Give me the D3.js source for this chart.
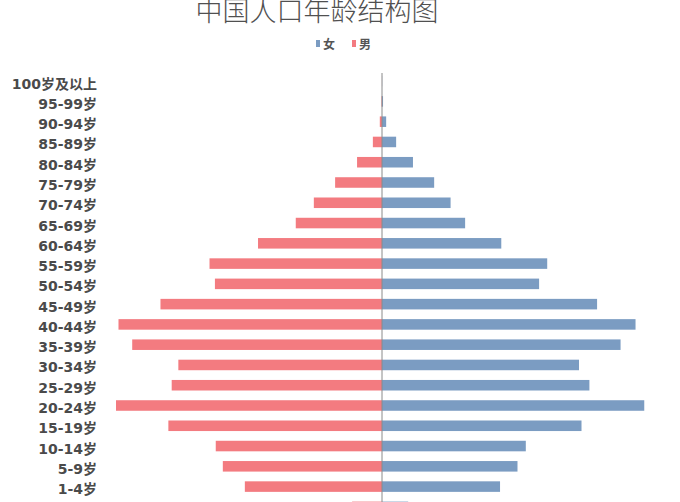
<!DOCTYPE html>
<html>
<head>
<meta charset="utf-8">
<script src="https://d3js.org/d3.v7.min.js"></script>
<style>
  body { margin: 0; background: #fff; }
  svg { display: block; }
</style>
</head>
<body>
<svg id="drawing_region"></svg>
<script>
// age groups, top to bottom
const ages = ['100岁及以上', '95-99岁', '90-94岁', '85-89岁', '80-84岁', '75-79岁', '70-74岁',
  '65-69岁', '60-64岁', '55-59岁', '50-54岁', '45-49岁', '40-44岁', '35-39岁', '30-34岁',
  '25-29岁', '20-24岁', '15-19岁', '10-14岁', '5-9岁', '1-4岁', '0岁'];

// population, 万人
const male = [1, 12, 53, 220, 600, 1128, 1640, 2075, 2983, 4150, 4020, 5330, 6340, 6010, 4900,
  5060, 6400, 5140, 4000, 3830, 3300, 720];
const female = [3, 25, 100, 340, 745, 1255, 1650, 2000, 2870, 3975, 3780, 5175, 6100, 5740, 4740,
  4990, 6310, 4800, 3460, 3260, 2840, 630];

const seriesNames = ['女', '男'];
const colors = { '女': '#7b9cc2', '男': '#f37b80' };

const config = {
  width: 680,
  height: 502,
  title: '中国人口年龄结构图'
};

const data = ages.map((a, i) => ({ age: a, male: male[i], female: female[i] }));

const svg = d3.select('#drawing_region')
  .attr('width', config.width)
  .attr('height', config.height);

const xscale = d3.scaleLinear()
  .domain([-8000, 8000])
  .range([49.5, 714.5]);

const yscale = d3.scaleBand()
  .domain(ages)
  .range([71, 517])
  .paddingInner(0.48)
  .paddingOuter(0.24);

// title
svg.append('text')
  .attr('x', 317)
  .attr('y', 21)
  .attr('text-anchor', 'middle')
  .style('font-family', '"Noto Sans CJK SC", sans-serif')
  .style('font-size', '27px')
  .style('font-weight', 300)
  .style('fill', '#505050')
  .text(config.title);

// legend
const legend = svg.append('g')
  .attr('transform', 'translate(316, 44)');
const leg = legend.selectAll('g')
  .data(seriesNames)
  .join('g')
  .attr('transform', (d, i) => `translate(${i * 36}, 0)`);
leg.append('rect')
  .attr('x', 0)
  .attr('y', -4)
  .attr('width', 4)
  .attr('height', 7)
  .attr('fill', d => colors[d]);
leg.append('text')
  .attr('x', 7)
  .attr('y', 0)
  .attr('dy', '0.38em')
  .style('font-family', '"Noto Sans CJK SC", sans-serif')
  .style('font-size', '12px')
  .style('font-weight', 'bold')
  .style('fill', '#555')
  .text(d => d);

const chart = svg.append('g');

// male bars to the left
chart.selectAll('rect.male')
  .data(data)
  .join('rect')
  .attr('class', 'male')
  .attr('x', d => xscale(-d.male))
  .attr('y', d => yscale(d.age))
  .attr('width', d => xscale(0) - xscale(-d.male))
  .attr('height', yscale.bandwidth())
  .attr('fill', colors['男']);

// female bars to the right
chart.selectAll('rect.female')
  .data(data)
  .join('rect')
  .attr('class', 'female')
  .attr('x', xscale(0))
  .attr('y', d => yscale(d.age))
  .attr('width', d => xscale(d.female) - xscale(0))
  .attr('height', yscale.bandwidth())
  .attr('fill', colors['女']);

// centre axis line
chart.append('line')
  .attr('x1', xscale(0))
  .attr('x2', xscale(0))
  .attr('y1', 73)
  .attr('y2', config.height)
  .attr('stroke', '#8a8a8a')
  .attr('stroke-width', 1);

// age labels
const yaxis = d3.axisLeft(yscale).tickSize(0).tickPadding(0);
const yaxis_group = svg.append('g')
  .attr('transform', 'translate(97, 3)')
  .call(yaxis);
yaxis_group.select('.domain').remove();
yaxis_group.selectAll('text')
  .style('font-family', '"DejaVu Sans", "Noto Sans CJK SC", sans-serif')
  .style('font-size', '14px')
  .style('font-weight', 'bold')
  .style('fill', '#4a4a4a');
</script>
</body>
</html>
